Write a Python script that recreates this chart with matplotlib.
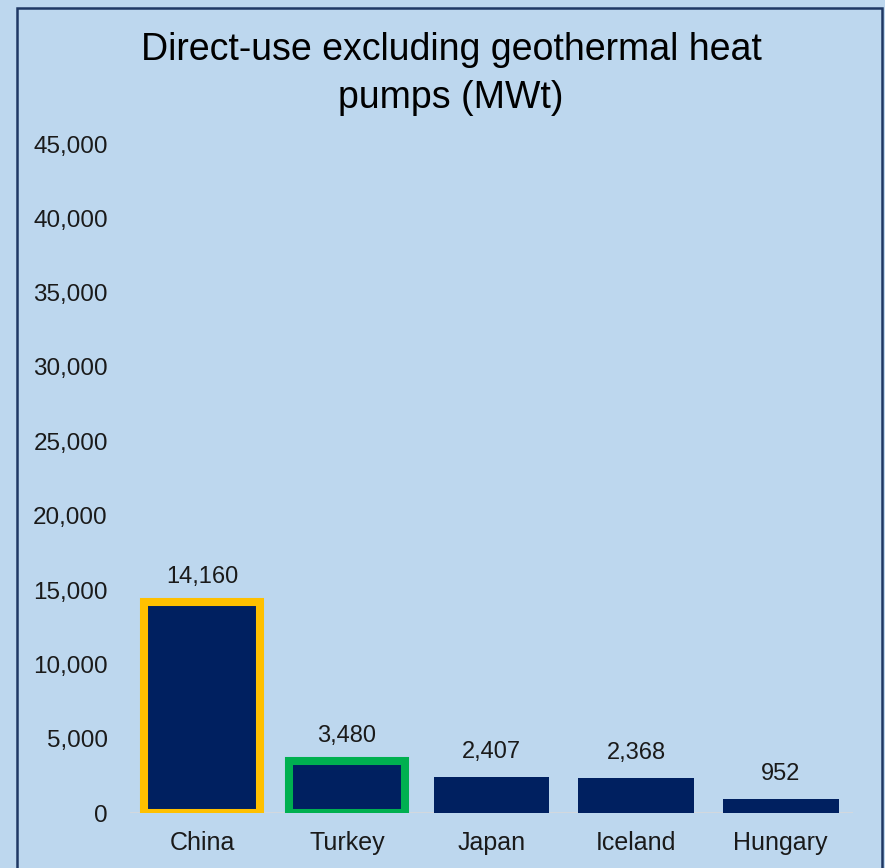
import matplotlib
matplotlib.use("Agg")
import matplotlib.pyplot as plt
from matplotlib.patches import Rectangle
from matplotlib.ticker import FuncFormatter

countries = ["China", "Turkey", "Japan", "Iceland", "Hungary"]
capacity_mwt = [14160, 3480, 2407, 2368, 952]
outline_colors = ["#FFC000", "#00B050", None, None, None]
y_ticks = [0, 5000, 10000, 15000, 20000, 25000, 30000, 35000, 40000, 45000]
title = "Direct-use excluding geothermal heat\npumps (MWt)"

plt.rcParams["font.family"] = ["Liberation Sans", "DejaVu Sans"]

BG = "#BDD7EE"
NAVY = "#002060"
TEXT = "#1A1A1A"

W, H = 885, 868
fig = plt.figure(figsize=(W / 100, H / 100), dpi=100, facecolor=BG)

# frame around the chart area (open at the bottom)
frame = Rectangle((17 / W, -0.05), (882 - 17) / W, 1.05 - 8 / H,
                  transform=fig.transFigure, fill=False,
                  edgecolor="#1F3864", linewidth=1.8, zorder=0)
fig.patches.append(frame)

ax = fig.add_axes([130 / W, (H - 813) / H, 723 / W, 669 / H])
ax.set_facecolor(BG)

x = list(range(len(countries)))
bars = ax.bar(x, capacity_mwt, width=0.8, color=NAVY, zorder=3)
for bar, oc in zip(bars, outline_colors):
    if oc:
        bar.set_edgecolor(oc)
        bar.set_linewidth(5.8)

ax.axhline(0, color="#D9D9D9", linewidth=1.8, zorder=2)

for xi, v in zip(x, capacity_mwt):
    ax.annotate(f"{v:,}", (xi, v), xytext=(0, 18), textcoords="offset points",
                ha="center", va="center", fontsize=17, color=TEXT)

ax.set_xlim(-0.5, len(countries) - 0.5)
ax.set_ylim(0, 45000)
ax.set_yticks(y_ticks)
ax.yaxis.set_major_formatter(FuncFormatter(lambda v, p: f"{int(v):,}"))
ax.set_xticks(x)
ax.set_xticklabels(countries)
ax.tick_params(axis="y", length=0, pad=16, labelsize=17.5, labelcolor=TEXT)
ax.tick_params(axis="x", length=0, pad=13, labelsize=18, labelcolor=TEXT)
for s in ax.spines.values():
    s.set_visible(False)

fig.text(451 / W, 1 - 74 / H, title, ha="center", va="center",
         fontsize=27, color="#000000", linespacing=1.42)

fig.savefig("out.png", dpi=100, facecolor=BG)
